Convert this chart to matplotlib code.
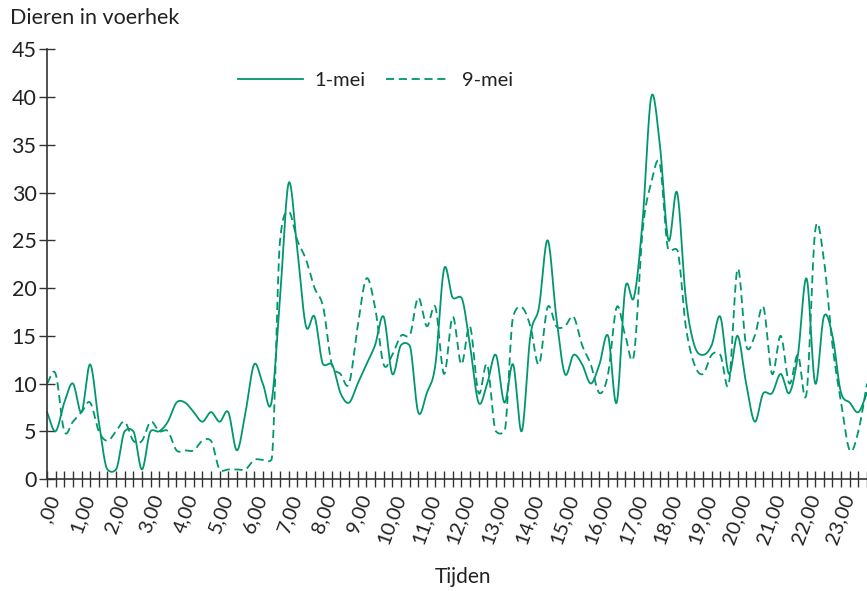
import matplotlib
matplotlib.use("Agg")
import matplotlib.pyplot as plt
import numpy as np

# Dieren in de voerhek per kwartier, twee meetdagen
kwartieren = np.arange(96)
mei_1 = [7, 5, 8, 10, 7, 12, 6, 1, 1, 5, 5, 1, 5, 5, 6, 8,
         8, 7, 6, 7, 6, 7, 3, 7, 12, 10, 8, 19, 31, 24, 16, 17,
         12, 12, 9, 8, 10, 12, 14, 17, 11, 14, 14, 7, 9, 12, 22, 19,
         19, 14, 8, 10, 13, 8, 12, 5, 15, 18, 25, 17, 11, 13, 12, 10,
         12, 15, 8, 20, 19, 27, 40, 35, 25, 30, 19, 14, 13, 14, 17, 11,
         15, 10, 6, 9, 9, 11, 9, 13, 21, 10, 17, 15, 9, 8, 7, 9]
mei_9 = [10, 11, 5, 6, 7, 8, 5, 4, 5, 6, 4, 4, 6, 5, 5, 3,
         3, 3, 4, 4, 1, 1, 1, 1, 2, 2, 2, 25, 28, 25, 23, 20,
         18, 12, 11, 10, 16, 21, 18, 12, 13, 15, 15, 19, 16, 18, 11, 17,
         12, 16, 9, 12, 5, 5, 17, 18, 16, 12, 18, 16, 16, 17, 14, 12,
         9, 11, 18, 15, 13, 26, 31, 33, 24, 24, 16, 12, 11, 13, 13, 10,
         22, 14, 15, 18, 11, 15, 10, 13, 9, 26, 23, 14, 8, 3, 5, 10]
uur_labels = [",00"] + [f"{h},00" for h in range(1, 24)]

kleur = "#00966e"
plt.rcParams["font.family"] = ["Lato", "DejaVu Sans"]


def glad(y, n=16):
    # Hermite-spline door de meetpunten; raaklijnen als Catmull-Rom,
    # maar begrensd zodat vlakke stukken niet ver doorschieten
    y = np.asarray(y, float)
    d = np.diff(y)
    m = np.zeros_like(y)
    m[1:-1] = (y[2:] - y[:-2]) / 2
    m[0], m[-1] = d[0], d[-1]
    for i in range(1, len(y) - 1):
        dl, dr = d[i - 1], d[i]
        if dl == 0 or dr == 0:
            m[i] = np.sign(m[i]) * min(abs(m[i]), 1.0)
        elif dl * dr > 0:
            lim = 3 * min(abs(dl), abs(dr))
            m[i] = np.sign(m[i]) * min(abs(m[i]), lim)
    t = np.linspace(0, 1, n, endpoint=False)
    h00 = 2 * t ** 3 - 3 * t ** 2 + 1
    h10 = t ** 3 - 2 * t ** 2 + t
    h01 = -2 * t ** 3 + 3 * t ** 2
    h11 = t ** 3 - t ** 2
    xs, ys = [], []
    for i in range(len(y) - 1):
        ys.append(h00 * y[i] + h10 * m[i] + h01 * y[i + 1] + h11 * m[i + 1])
        xs.append(kwartieren[i] + t)
    xs.append([kwartieren[-1]])
    ys.append([y[-1]])
    return np.concatenate(xs), np.concatenate(ys)


fig = plt.figure(figsize=(8.67, 5.91), dpi=100)
ax = fig.add_axes([47 / 867, 1 - 479 / 591, 1 - 47 / 867, (479 - 49.3) / 591])

x1, y1 = glad(mei_1)
x9, y9 = glad(mei_9)
ax.plot(x1, y1, color=kleur, lw=1.3, label="1-mei", clip_on=False)
ax.plot(x9, y9, color=kleur, lw=1.3, dashes=(4.5, 2.6), label="9-mei", clip_on=False)

ax.set_xlim(0, 95)
ax.set_ylim(0, 45)
ax.set_yticks(range(0, 46, 5))
ax.set_xticks(kwartieren[::4])
ax.set_xticks(kwartieren, minor=True)
ax.set_xticklabels(uur_labels, rotation=70, ha="right", va="top",
                   rotation_mode="anchor")

for s in ["top", "right"]:
    ax.spines[s].set_visible(False)
for s in ["left", "bottom"]:
    ax.spines[s].set_color("#333333")
    ax.spines[s].set_linewidth(1.2)

ax.tick_params(axis="both", which="both", direction="inout", length=11,
               width=1.0, color="#333333", labelcolor="#222222")
ax.tick_params(axis="x", which="major", pad=4, labelsize=14.5)
ax.tick_params(axis="y", pad=2, labelsize=15.5)

leg = ax.legend(ncol=2, frameon=False, fontsize=14.5, handlelength=3.2,
                handletextpad=0.6, columnspacing=1.0, borderpad=0,
                loc="upper left", bbox_to_anchor=(228 / 867, 1 - 62 / 591),
                bbox_transform=fig.transFigure)
for t in leg.get_texts():
    t.set_color("#222222")

fig.text(10 / 867, 1 - 18 / 591, "Dieren in voerhek", ha="left", va="center",
         fontsize=15.5, color="#222222")
fig.text(463 / 867, 1 - 577 / 591, "Tijden", ha="center", va="center",
         fontsize=15, color="#222222")

fig.savefig("out.png", dpi=100)
